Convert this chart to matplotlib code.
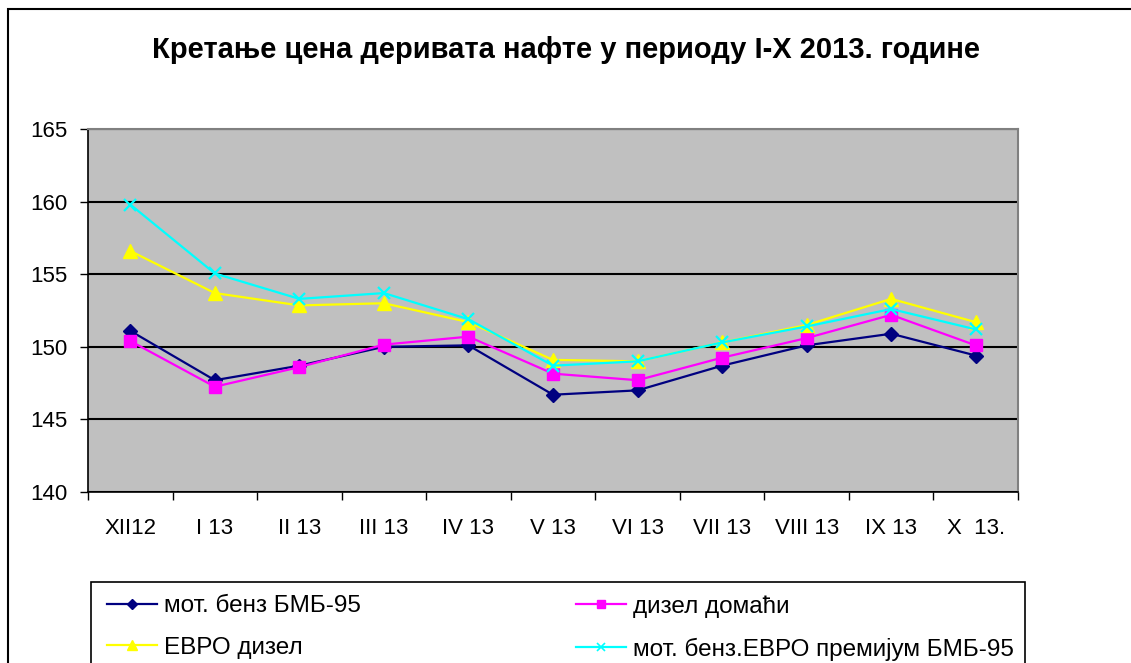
import matplotlib.pyplot as plt
import numpy as np
from matplotlib.patches import Rectangle
from matplotlib.lines import Line2D

plt.rcParams['font.family'] = ['Liberation Sans', 'DejaVu Sans']

# Podaci
meseci = ['XII12', 'I 13', 'II 13', 'III 13', 'IV 13', 'V 13', 'VI 13',
          'VII 13', 'VIII 13', 'IX 13', 'X  13.']
bmb95 = [151.1, 147.7, 148.7, 150.0, 150.1, 146.7, 147.0, 148.7, 150.1, 150.9, 149.4]
dizel_domaci = [150.4, 147.25, 148.6, 150.15, 150.7, 148.15, 147.7, 149.25, 150.6, 152.2, 150.1]
evro_dizel = [156.6, 153.7, 152.85, 153.0, 151.7, 149.1, 149.0, 150.3, 151.5, 153.3, 151.7]
evro_premijum = [159.8, 155.05, 153.3, 153.7, 151.9, 148.7, 149.0, 150.3, 151.4, 152.6, 151.2]
y_ticks = [140, 145, 150, 155, 160, 165]

W, H = 1131, 663
fig = plt.figure(figsize=(W / 100, H / 100), dpi=100)

# okvir oko celog grafikona (desna i donja ivica su van slike)
fig.patches.append(Rectangle((8 / W, -0.05), 1.1, 1.05 - 9 / H,
                             transform=fig.transFigure, fill=False,
                             edgecolor='black', linewidth=1.5, clip_on=False))

ax = fig.add_axes([88 / W, (H - 492) / H, 930 / W, 363 / H])
ax.set_facecolor('#C0C0C0')

x = np.arange(len(meseci))
serije = [
    (bmb95, '#000080', 'D', 7, 'мот. бенз БМБ-95'),
    (dizel_domaci, '#FF00FF', 's', 8, 'дизел домаћи'),
    (evro_dizel, '#FFFF00', '^', 10, 'ЕВРО дизел'),
    (evro_premijum, '#00FFFF', 'x', 8, 'мот. бенз.ЕВРО премијум БМБ-95'),
]
for vals, boja, mk, ms, naziv in serije:
    ax.plot(x, vals, color=boja, marker=mk, markersize=ms, linewidth=1.6,
            markeredgewidth=1.6 if mk == 'x' else 1.0, label=naziv)

ax.set_xlim(-0.5, len(meseci) - 0.5)
ax.set_ylim(140, 165)
ax.set_yticks(y_ticks)
ax.yaxis.grid(True, color='black', linewidth=1.5)
ax.set_axisbelow(True)

# crtice izmedju kategorija, nazivi u sredini
ax.set_xticks(np.arange(len(meseci) + 1) - 0.5)
ax.set_xticklabels([])
ax.set_xticks(x, minor=True)
ax.set_xticklabels(meseci, minor=True)
ax.tick_params(axis='x', which='major', direction='out', length=6, width=1)
ax.tick_params(axis='x', which='minor', length=0, pad=19, labelsize=16)
ax.tick_params(axis='y', direction='out', length=6, width=1, pad=9, labelsize=16)

for s in ['top', 'right']:
    ax.spines[s].set_color('#808080')
    ax.spines[s].set_linewidth(1.5)
for s in ['left', 'bottom']:
    ax.spines[s].set_color('black')
    ax.spines[s].set_linewidth(1.2)

fig.text(0.5, 1 - 50 / H, 'Кретање цена деривата нафте у периоду I-X 2013. године',
         ha='center', va='center', fontsize=21, fontweight='bold')

# legenda
fig.patches.append(Rectangle((91 / W, -0.05), 934 / W, 0.05 + (H - 582) / H,
                             transform=fig.transFigure, fill=False,
                             edgecolor='black', linewidth=1.2, clip_on=False))
handles = [Line2D([], [], color=b, marker=m, markersize=ms * 0.75, linewidth=1.6,
                  markeredgewidth=1.2 if m == 'x' else 1.0)
           for _, b, m, ms, _ in serije]
labels = [s[4] for s in serije]
kol = [(0, 2, 107), (1, 3, 576)]
for i, j, px in kol:
    leg = fig.legend([handles[i], handles[j]], [labels[i], labels[j]],
                     loc='upper left', bbox_to_anchor=(px / W, 1 - 595 / H),
                     frameon=False, fontsize=17.5, handlelength=2.05,
                     handletextpad=0.29, labelspacing=0.82, borderpad=0,
                     borderaxespad=0)

fig.savefig('out.png', dpi=100)
